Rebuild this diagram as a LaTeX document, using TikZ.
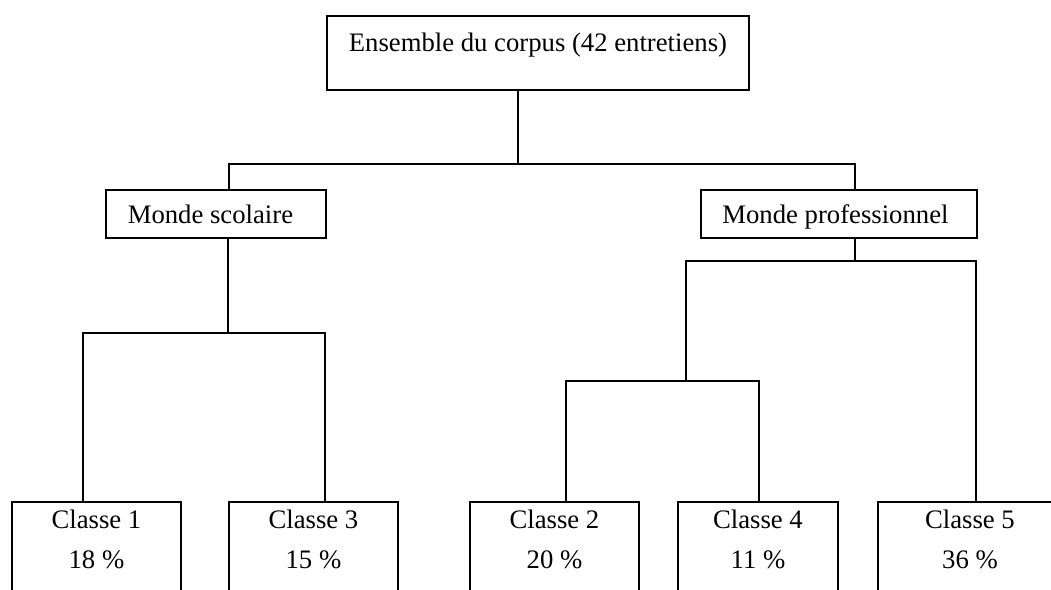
\documentclass[tikz,border=0pt]{standalone}
\usepackage{fontspec}
\setmainfont{Liberation Serif}
\begin{document}
\begin{tikzpicture}[x=1pt,y=-1pt,
  box/.style={draw, line width=1.9pt, inner sep=0pt, anchor=north west,
    font=\fontsize{26.7}{40}\selectfont},
  head/.style={box, text height=34pt, text depth=14pt},
  leaf/.style={box, align=center, text height=67pt, text depth=90pt},
  link/.style={draw, line width=1.9pt},
]
\clip (0,0) rectangle (1051,589);
\fill[white] (0,0) rectangle (1051,589);

% root of the tree
\node[box, minimum width=422pt, text height=36pt, text depth=38pt] (root) at (326,15)
  {Ensemble du corpus (42 entretiens)};

% second level
\node[head, minimum width=220pt] (ms) at (105,189) {\hspace*{-11pt}Monde scolaire};
\node[head, minimum width=276pt] (mp) at (700,189) {\hspace*{-7pt}Monde professionnel};

% classes (two-line text: the box baseline is that of the second line)
\node[leaf, minimum width=169pt] (c1) at (11,501)  {Classe 1\\18 \%};
\node[leaf, minimum width=169pt] (c3) at (228,501) {Classe 3\\15 \%};
\node[leaf, minimum width=169pt] (c2) at (469,501) {Classe 2\\20 \%};
\node[leaf, minimum width=160pt] (c4) at (677,501) {Classe 4\\11 \%};
\node[leaf, minimum width=184pt] (c5) at (877,501) {Classe 5\\36 \%};

% junction points
\coordinate (t)  at (518,164);
\coordinate (tl) at (229,164);
\coordinate (tr) at (855,164);
\coordinate (sm) at (228,333);
\coordinate (sl) at (83,333);
\coordinate (sr) at (325,333);
\coordinate (pm) at (855,261);
\coordinate (pl) at (686,261);
\coordinate (pr) at (976,261);
\coordinate (qm) at (686,381);
\coordinate (ql) at (566,381);
\coordinate (qr) at (759,381);

% connectors
\draw[link] (root.south -| t) -- (t);
\draw[link] (ms.north -| tl) -- (tl) -- (tr) -- (mp.north -| tr);
\draw[link] (ms.south -| sm) -- (sm);
\draw[link] (c1.north -| sl) -- (sl) -- (sr) -- (c3.north -| sr);
\draw[link] (mp.south -| pm) -- (pm);
\draw[link] (qm) -- (pl) -- (pr) -- (c5.north -| pr);
\draw[link] (c2.north -| ql) -- (ql) -- (qr) -- (c4.north -| qr);
\end{tikzpicture}
\end{document}
